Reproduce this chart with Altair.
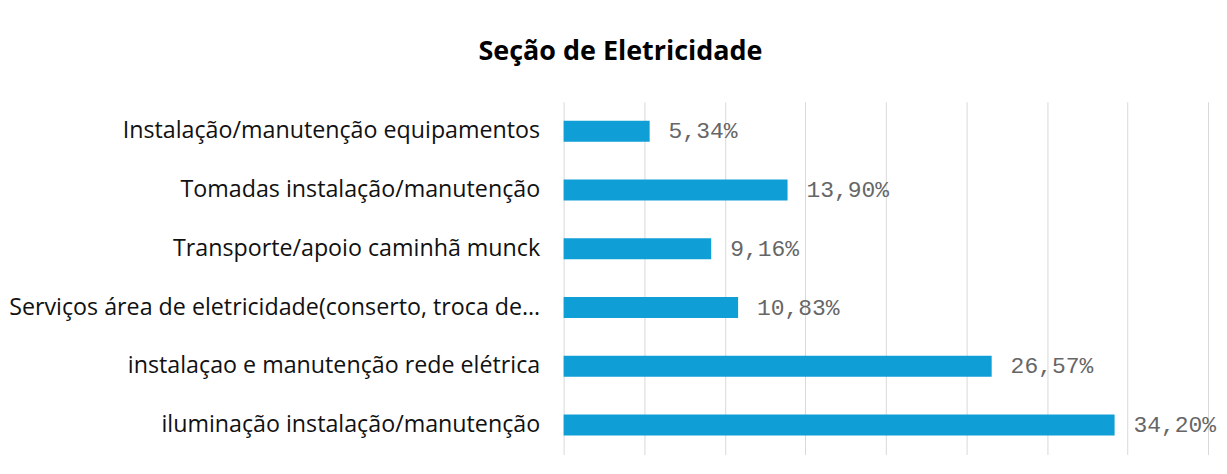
import altair as alt
import pandas as pd

categories = [
    "Instalação/manutenção equipamentos",
    "Tomadas instalação/manutenção",
    "Transporte/apoio caminhã munck",
    "Serviços área de eletricidade(conserto, troca de…",
    "instalaçao e manutenção rede elétrica",
    "iluminação instalação/manutenção",
]
values = [5.34, 13.90, 9.16, 10.83, 26.57, 34.20]
x_ticks = [0, 5, 10, 15, 20, 25, 30, 35, 40]

df = pd.DataFrame({"cat": categories, "v": values})

base = alt.Chart(df).encode(
    y=alt.Y("cat:N", sort=categories, title=None,
            axis=alt.Axis(ticks=False, domain=False, labelPadding=24,
                          labelFontSize=23.3, labelFont="Open Sans",
                          labelColor="#111111", labelLimit=700)),
    x=alt.X("v:Q", title=None, scale=alt.Scale(domain=[0, 40], nice=False),
            axis=alt.Axis(values=x_ticks, labels=False, ticks=False, domain=False,
                          grid=True, gridColor="#d9d9d9", gridWidth=1)),
)

bars = base.mark_bar(size=21, color="#0F9ED5")
labels = base.transform_calculate(
    lbl="replace(format(datum.v, '.2f'), '.', ',') + '%'"
).mark_text(align="left", baseline="middle", dx=19, font="Liberation Mono",
            fontSize=23, color="#666666").encode(text="lbl:N")

chart = (bars + labels).properties(
    width=646, height=353.5,
    title=alt.TitleParams("Seção de Eletricidade", font="Open Sans", fontSize=27,
                          fontWeight="bold", color="#000000", anchor="middle",
                          frame="group", dx=-266, offset=15, baseline="alphabetic"),
    autosize=alt.AutoSizeParams(type="none"),
    padding={"left": 557, "top": 93.5, "right": 11, "bottom": 10},
).configure_view(stroke=None)

chart.save("out.html", embed_options={"renderer": "svg", "actions": False})
